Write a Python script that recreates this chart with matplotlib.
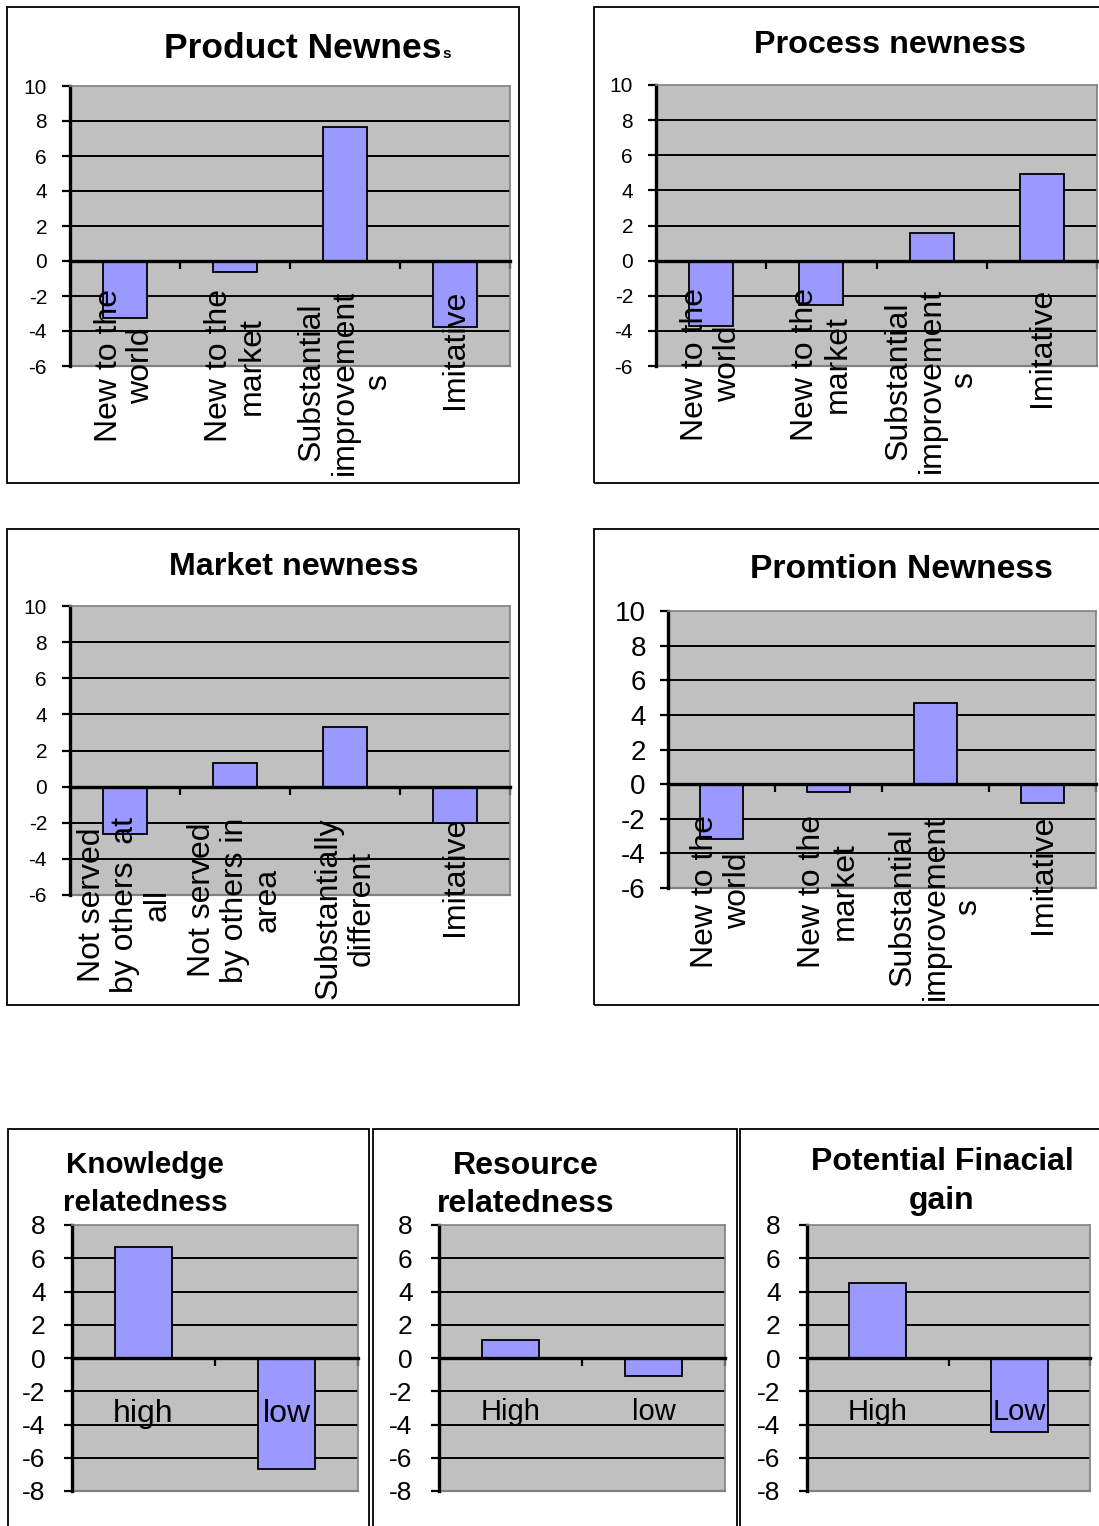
import matplotlib
matplotlib.use('Agg')
import matplotlib.pyplot as plt
from matplotlib.patches import Rectangle
from matplotlib.text import Annotation

plt.rcParams['font.family'] = ['Liberation Sans', 'DejaVu Sans']

W, H = 1099, 1526
DPI = 100

# ---------------- data ----------------
newness_cats = ["New to the\nworld", "New to the\nmarket",
                "Substantial\nimprovement\ns", "Imitative"]
market_cats = ["Not served\nby others  at\nall", "Not served\nby others in\narea",
               "Substantially\ndifferent", "Imitative"]
product_vals = [-3.25, -0.6, 7.65, -3.75]
process_vals = [-3.75, -2.5, 1.6, 4.95]
market_vals = [-2.65, 1.3, 3.3, -2.0]
promotion_vals = [-3.15, -0.45, 4.7, -1.1]

knowledge_cats = ["high", "low"]
knowledge_vals = [6.7, -6.65]
resource_cats = ["High", "low"]
resource_vals = [1.1, -1.1]
financial_cats = ["High", "Low"]
financial_vals = [4.5, -4.45]

top_yticks = [-6, -4, -2, 0, 2, 4, 6, 8, 10]
bottom_yticks = [-8, -6, -4, -2, 0, 2, 4, 6, 8]

BAR = '#9999FF'
PLOT_BG = '#C0C0C0'
EDGE_GRAY = '#808080'

fig = plt.figure(figsize=(W / DPI, H / DPI), dpi=DPI)


def fx(x):
    return x / W


def fy(y):
    return 1 - y / H


def frame(x0, y0, x1, y1):
    fig.add_artist(Rectangle((fx(x0), fy(y1)), fx(x1) - fx(x0), fy(y0) - fy(y1),
                             transform=fig.transFigure, fill=False,
                             edgecolor='black', lw=1.3))


def panel(box, cats, vals, yticks, tick_fs, pad, label_fs, rotated, label_off):
    x0, y0, x1, y1 = box
    ax = fig.add_axes([fx(x0), fy(y1), fx(x1) - fx(x0), fy(y0) - fy(y1)])
    ax.set_facecolor(PLOT_BG)
    n = len(cats)
    pos = list(range(n))
    ax.hlines(yticks[1:-1], -0.5, n - 0.5, colors='black', lw=1.4, zorder=1)
    ax.bar(pos, vals, width=0.4, color=BAR, edgecolor='black', linewidth=1.3, zorder=2)
    ax.set_xlim(-0.5, n - 0.5)
    ax.set_ylim(yticks[0], yticks[-1])
    ax.set_yticks(yticks)
    ax.set_yticklabels([str(v) for v in yticks])
    ax.set_xticks([p + 0.5 for p in pos])
    ax.set_xticklabels([])
    for s in ('top', 'right'):
        ax.spines[s].set_color(EDGE_GRAY)
        ax.spines[s].set_linewidth(1.2)
    ax.spines['left'].set_color('black')
    ax.spines['left'].set_linewidth(2.4)
    ax.spines['bottom'].set_position(('data', 0))
    ax.spines['bottom'].set_color('black')
    ax.spines['bottom'].set_linewidth(2.4)
    ax.spines['bottom'].set_zorder(3)
    ax.axhline(yticks[0], color=EDGE_GRAY, lw=1.6, clip_on=False, zorder=1)
    ax.tick_params(axis='y', direction='out', length=6, width=1.6,
                   labelsize=tick_fs, pad=pad, colors='black')
    ax.tick_params(axis='x', direction='out', length=6, width=1.6, colors='black')
    for p, c in zip(pos, cats):
        if rotated:
            ax.annotate(c, xy=(p, 0), xytext=(0, -label_off), textcoords='offset points',
                        rotation=90, ha='center', va='top', multialignment='center',
                        linespacing=1.13, fontsize=label_fs, annotation_clip=False, zorder=4)
        else:
            ax.annotate(c, xy=(p, 0), xytext=(0, -label_off), textcoords='offset points',
                        ha='center', va='baseline', fontsize=label_fs,
                        annotation_clip=False, zorder=4)
    return ax


# ---------------- frames ----------------
frame(7, 7, 519, 483)
frame(594, 7, 1110, 483)
frame(7, 529, 519, 1005)
frame(594, 529, 1110, 1005)
frame(8, 1129, 369, 1540)
frame(373, 1129, 737, 1540)
frame(740, 1129, 1110, 1540)

# ---------------- panels ----------------
panel((70, 86, 510, 366), newness_cats, product_vals, top_yticks, 15, 10.5, 23, True, 20.5)
panel((656, 85, 1097, 366), newness_cats, process_vals, top_yticks, 15, 10.5, 23, True, 19.5)
panel((70, 606, 510, 895), market_cats, market_vals, top_yticks, 15, 10.5, 23, True, 22)
panel((668, 611, 1096, 888), newness_cats, promotion_vals, top_yticks, 20, 10, 23, True, 22)
panel((72, 1225, 358, 1491), knowledge_cats, knowledge_vals, bottom_yticks, 19, 13, 23, False, 46)
panel((439, 1225, 725, 1491), resource_cats, resource_vals, bottom_yticks, 19, 13, 21, False, 45)
panel((807, 1225, 1090, 1491), financial_cats, financial_vals, bottom_yticks, 19, 13, 21, False, 45)

# ---------------- titles ----------------
t = fig.text(fx(303), fy(58), "Product Newnes", ha='center', va='baseline',
             fontsize=25.5, fontweight='bold')
fig.add_artist(Annotation("s", xy=(1, 0), xycoords=t, xytext=(0.5, 3),
                          textcoords='offset points', ha='left', va='bottom',
                          fontsize=11, fontweight='bold'))
fig.text(fx(890), fy(53), "Process newness", ha='center', va='baseline',
         fontsize=23.3, fontweight='bold')
fig.text(fx(294), fy(575), "Market newness", ha='center', va='baseline',
         fontsize=23.2, fontweight='bold')
fig.text(fx(901), fy(578), "Promtion Newness", ha='center', va='baseline',
         fontsize=24.2, fontweight='bold')
fig.text(fx(145), fy(1151), "Knowledge\nrelatedness", ha='center', va='top',
         multialignment='center', linespacing=1.45, fontsize=21.3, fontweight='bold')
fig.text(fx(526), fy(1151), "Resource\nrelatedness", ha='center', va='top',
         multialignment='center', linespacing=1.35, fontsize=23, fontweight='bold')
fig.text(fx(942), fy(1147), "Potential Finacial\ngain", ha='center', va='top',
         multialignment='center', linespacing=1.4, fontsize=23, fontweight='bold')

fig.savefig('out.png', dpi=DPI, facecolor='white')
